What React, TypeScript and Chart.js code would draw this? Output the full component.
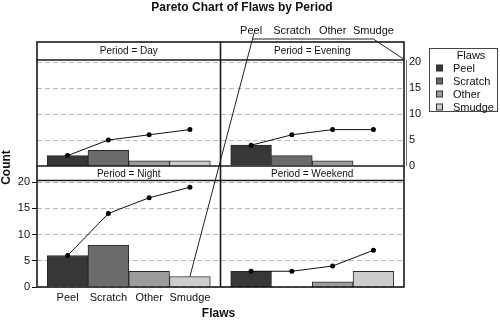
import React, { useEffect, useRef } from 'react';
import { Chart, registerables } from 'chart.js';

Chart.register(...registerables);

const FLAWS = ['Peel', 'Scratch', 'Other', 'Smudge'];
const PERIODS = ['Day', 'Evening', 'Night', 'Weekend'];
const DAY_COUNTS = [2, 3, 1, 1];
const EVENING_COUNTS = [4, 2, 1, 0];
const NIGHT_COUNTS = [6, 8, 3, 2];
const WEEKEND_COUNTS = [3, 0, 1, 3];
const DAY_CUM = [2, 5, 6, 7];
const EVENING_CUM = [4, 6, 7, 7];
const NIGHT_CUM = [6, 14, 17, 19];
const WEEKEND_CUM = [3, 3, 4, 7];
const COUNT_TICKS = [0, 5, 10, 15, 20];
const FLAW_COLORS = ['#373737', '#6b6b6b', '#9c9c9c', '#cdcdcd'];

const FONT = '"Liberation Sans", Arial, Helvetica, sans-serif';
const X_MIN = -0.75;
const X_MAX = 3.75;
const Y_MAX_TOP = 23.85;
const Y_MAX_BOTTOM = 23.05;
const TOP_ROW_SHARE = 124 / 245;

const PANELS = [
  { counts: DAY_COUNTS, cum: DAY_CUM, x: 'xTL', y: 'yTL' },
  { counts: EVENING_COUNTS, cum: EVENING_CUM, x: 'xTR', y: 'yTR' },
  { counts: NIGHT_COUNTS, cum: NIGHT_CUM, x: 'xBL', y: 'yBL' },
  { counts: WEEKEND_COUNTS, cum: WEEKEND_CUM, x: 'xBR', y: 'yBR' },
];

function xAxis(position: string, show: boolean, h: number) {
  return {
    type: 'linear',
    axis: 'x',
    position,
    display: show,
    offset: false,
    min: X_MIN,
    max: X_MAX,
    afterBuildTicks: (s: any) => {
      s.ticks = FLAWS.map((_, i) => ({ value: i }));
    },
    afterFit: (s: any) => {
      if (show) s.height = h;
    },
    grid: { display: false, drawTicks: false, offset: false },
    border: { display: false },
    ticks: {
      display: show,
      padding: 4,
      autoSkip: false,
      maxRotation: 0,
      color: '#111',
      font: { family: FONT, size: 11 },
      callback: (v: any, i: number) => FLAWS[i] ?? '',
    },
  };
}

function yAxis(position: string, max: number, show: boolean, w: number, grid: any) {
  return {
    type: 'linear',
    axis: 'y',
    position,
    display: show,
    min: 0,
    max,
    afterBuildTicks: (s: any) => {
      s.ticks = COUNT_TICKS.map((v) => ({ value: v }));
    },
    afterFit: (s: any) => {
      if (show) s.width = w;
    },
    grid,
    border: { display: false, dash: [5, 3] },
    ticks: {
      display: show,
      padding: position === 'left' ? 2 : 5,
      color: '#111',
      font: { family: FONT, size: 11 },
    },
  };
}

const dashedGrid = {
  display: true,
  color: '#b8b8b8',
  lineWidth: 1,
  drawTicks: false,
};

// split the single chart area into a 2x2 lattice of panels
const latticeLayout = {
  id: 'latticeLayout',
  afterLayout(chart: any) {
    const ca = chart.chartArea;
    const mid = (ca.left + ca.right) / 2;
    const hmid = ca.top + (ca.bottom - ca.top) * TOP_ROW_SHARE;
    const setX = (s: any, l: number, r: number) => {
      s.left = l;
      s.right = r;
      s.width = r - l;
      s.configure();
    };
    const setY = (s: any, t: number, b: number) => {
      s.top = t;
      s.bottom = b;
      s.height = b - t;
      s.configure();
    };
    const sc = chart.scales;
    setX(sc.xTL, ca.left, mid);
    setX(sc.xBL, ca.left, mid);
    setX(sc.xTR, mid, ca.right);
    setX(sc.xBR, mid, ca.right);
    setY(sc.yTL, ca.top, hmid);
    setY(sc.yTR, ca.top, hmid);
    setY(sc.yBL, hmid, ca.bottom);
    setY(sc.yBR, hmid, ca.bottom);
  },
};

const latticePlugin = {
  id: 'lattice',
  afterDraw(chart: any) {
    const { ctx, scales } = chart;
    const { xTL, xTR, xBL, yTL, yTR, yBL } = scales;
    const L = xTL.left;
    const M = xTL.right;
    const R = xTR.right;
    const T = yTL.top;
    const H = yTL.bottom;
    const B = yBL.bottom;
    const s1 = yTL.getPixelForValue(20) - 2;
    const s2 = yBL.getPixelForValue(20) - 1.5;
    const line = (x1: number, y1: number, x2: number, y2: number) => {
      ctx.beginPath();
      ctx.moveTo(x1, y1);
      ctx.lineTo(x2, y2);
      ctx.stroke();
    };
    ctx.save();
    ctx.fillStyle = '#ffffff';
    ctx.fillRect(L, T, R - L, s1 - T);
    ctx.fillRect(L, H, R - L, s2 - H);
    ctx.strokeStyle = '#1a1a1a';
    ctx.lineWidth = 1.6;
    ctx.strokeRect(L, T, R - L, B - T);
    line(M, T, M, B);
    line(L, H, R, H);
    line(L, s1, R, s1);
    line(L, s2, R, s2);
    ctx.fillStyle = '#111';
    ctx.font = `10px ${FONT}`;
    ctx.textAlign = 'center';
    ctx.textBaseline = 'middle';
    PERIODS.forEach((p, i) => {
      const col = i % 2;
      const row = Math.floor(i / 2);
      const cx = col === 0 ? (L + M) / 2 : (M + R) / 2;
      const cy = row === 0 ? (T + s1) / 2 : (H + s2) / 2;
      ctx.fillText(`Period = ${p}`, cx, cy + 0.5);
    });
    ctx.strokeStyle = '#222';
    ctx.lineWidth = 1;
    const ax = xTR.getPixelForValue(0) + 3;
    const ay = T - 9;
    line(ax, ay, xBL.getPixelForValue(3), yBL.getPixelForValue(NIGHT_COUNTS[3]));
    const hy = T - 3;
    ctx.beginPath();
    ctx.moveTo(ax - 1.5, hy);
    ctx.lineTo(xTR.getPixelForValue(3), hy);
    ctx.lineTo(R + 1, yTR.getPixelForValue(20) - 2);
    ctx.stroke();
    ctx.strokeStyle = '#777';
    line(R + 2.5, yTR.getPixelForValue(20) - 2, R + 2.5, yTR.bottom);
    ctx.fillStyle = '#111';
    ctx.font = `bold 12px ${FONT}`;
    ctx.textAlign = 'center';
    ctx.textBaseline = 'middle';
    ctx.fillText('Pareto Chart of Flaws by Period', 242, 8);
    ctx.fillText('Flaws', M - 2, 314);
    ctx.save();
    ctx.translate(7, (T + B) / 2 + 3);
    ctx.rotate(-Math.PI / 2);
    ctx.fillText('Count', 0, 0);
    ctx.restore();
    ctx.strokeStyle = '#444';
    ctx.lineWidth = 1;
    ctx.strokeRect(429.5, 48.5, 68, 63);
    ctx.font = `11px ${FONT}`;
    ctx.fillStyle = '#111';
    ctx.textAlign = 'center';
    ctx.fillText('Flaws', 471, 55.5);
    ctx.textAlign = 'left';
    FLAWS.forEach((f, i) => {
      const cy = 68 + i * 13;
      ctx.fillStyle = FLAW_COLORS[i];
      ctx.fillRect(436.5, cy - 3, 6, 6);
      ctx.strokeStyle = '#333';
      ctx.strokeRect(436.5, cy - 3, 6, 6);
      ctx.fillStyle = '#111';
      ctx.fillText(f, 453, cy + 0.5);
    });
    ctx.restore();
  },
};

export default function App() {
  const ref = useRef<HTMLCanvasElement | null>(null);
  useEffect(() => {
    document.body.style.margin = '0';
    const datasets: any[] = [];
    PANELS.forEach((p) => {
      datasets.push({
        type: 'line',
        data: p.cum.map((v, i) => ({ x: i, y: v })),
        xAxisID: p.x,
        yAxisID: p.y,
        borderColor: '#111',
        borderWidth: 1,
        pointRadius: 2.5,
        pointBackgroundColor: '#000',
        pointBorderWidth: 0,
        fill: false,
        tension: 0,
        order: 0,
      });
      datasets.push({
        type: 'bar',
        data: p.counts.map((v, i) => ({ x: i, y: v })),
        xAxisID: p.x,
        yAxisID: p.y,
        backgroundColor: FLAW_COLORS,
        borderColor: '#2a2a2a',
        borderWidth: 1,
        barPercentage: 1,
        categoryPercentage: 1,
        grouped: false,
        order: 1,
      });
    });
    const chart = new Chart(ref.current as HTMLCanvasElement, {
      type: 'bar',
      data: { datasets },
      options: {
        responsive: false,
        animation: false,
        events: [],
        layout: { padding: 0 },
        plugins: { legend: { display: false }, tooltip: { enabled: false }, title: { display: false } },
        scales: {
          xTL: xAxis('top', false, 42),
          xTR: xAxis('top', true, 42),
          xBL: xAxis('bottom', true, 34),
          xBR: xAxis('bottom', false, 34),
          yTL: yAxis('left', Y_MAX_TOP, false, 37, { display: false }),
          yBL: yAxis('left', Y_MAX_BOTTOM, true, 37, {
            ...dashedGrid,
            drawTicks: true,
            tickLength: 5,
            tickColor: '#111',
            tickBorderDash: [],
          }),
          yTR: yAxis('right', Y_MAX_TOP, true, 96, dashedGrid),
          yBR: yAxis('right', Y_MAX_BOTTOM, false, 96, { display: false }),
        },
      } as any,
      plugins: [latticeLayout, latticePlugin],
    });
    return () => chart.destroy();
  }, []);
  return (
    <div style={{ position: 'fixed', left: 0, top: 0, width: 500, height: 321, background: '#fff' }}>
      <canvas ref={ref} width={500} height={321} />
    </div>
  );
}
